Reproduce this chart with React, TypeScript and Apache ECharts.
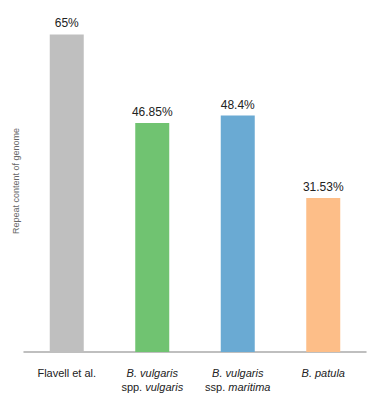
import React, { useEffect, useRef } from "react";
import * as echarts from "echarts";

const categories = ["Flavell et al.", "B. vulgaris spp. vulgaris", "B. vulgaris ssp. maritima", "B. patula"];
const categoryLabels = [
  "{n|Flavell et al.}",
  "{i|B. vulgaris}\n{n|spp. }{i|vulgaris}",
  "{i|B. vulgaris}\n{n|ssp. }{i|maritima}",
  "{i|B. patula}",
];
const values = [65, 46.85, 48.4, 31.53];
const valueLabels = ["65%", "46.85%", "48.4%", "31.53%"];
const colors = ["#bfbfbf", "#70c371", "#6aaad3", "#fdbe88"];

export default function App() {
  const ref = useRef<HTMLDivElement>(null);
  useEffect(() => {
    if (!ref.current) return;
    const chart = echarts.init(ref.current, undefined, { renderer: "svg" });
    const font = "'Liberation Sans', Arial, sans-serif";
    chart.setOption({
      animation: false,
      textStyle: { fontFamily: font },
      grid: { left: 24, right: 25, top: 10, bottom: 54 },
      xAxis: {
        type: "category",
        data: categories,
        axisTick: { show: false },
        axisLine: { lineStyle: { color: "#aaaaaa", width: 1.5 } },
        axisLabel: {
          interval: 0,
          margin: 14,
          formatter: (_v: string, i: number) => categoryLabels[i],
          rich: {
            n: { fontSize: 11, color: "#222", fontFamily: font, lineHeight: 14 },
            i: { fontSize: 11, color: "#222", fontStyle: "italic", fontFamily: font, lineHeight: 14 },
          },
        },
      },
      yAxis: {
        type: "value",
        min: 0,
        max: 70,
        axisLine: { show: false },
        axisTick: { show: false },
        axisLabel: { show: false },
        splitLine: { show: false },
        name: "Repeat content of genome",
        nameLocation: "middle",
        nameGap: 4,
        nameTextStyle: { fontSize: 9, color: "#666", fontFamily: font },
      },
      series: [
        {
          type: "bar",
          barWidth: 34,
          data: values.map((v, i) => ({ value: v, itemStyle: { color: colors[i] } })),
          label: {
            show: true,
            position: "top",
            distance: 5,
            fontSize: 12,
            color: "#222",
            fontFamily: font,
            formatter: (p: any) => valueLabels[p.dataIndex],
          },
        },
      ],
    });
    return () => chart.dispose();
  }, []);
  return <div ref={ref} style={{ width: 391, height: 406, position: "absolute", left: 0, top: 0 }} />;
}
